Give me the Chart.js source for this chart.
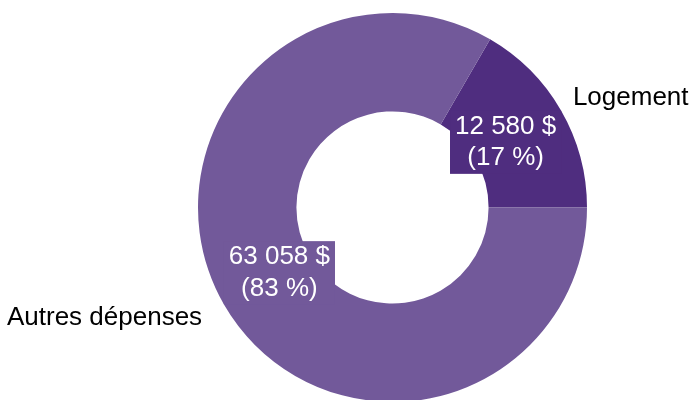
<!DOCTYPE html>
<html>
<head>
<meta charset="utf-8">
<script src="https://cdn.jsdelivr.net/npm/chart.js@4/dist/chart.umd.min.js"></script>
<style>
  html, body { margin: 0; padding: 0; background: #fff; overflow: hidden; }
  #wrap { width: 696px; height: 402px; position: relative; }
</style>
</head>
<body>
<div id="wrap"><canvas id="depenses"></canvas></div>
<script>
// Dépenses du ménage : logement vs le reste
const categories = ['Logement', 'Autres dépenses'];
const montants = [12580, 63058];
const couleurs = ['#4F2D7F', '#72599A'];

const FONT = '"Liberation Sans", Arial, sans-serif';
const total = montants.reduce((a, b) => a + b, 0);

function fmtDollars(v) {
  return String(v).replace(/\B(?=(\d{3})+(?!\d))/g, ' ') + ' $';
}
function fmtPct(v) {
  return '(' + Math.round(v / total * 100) + ' %)';
}

// étiquettes : montant dans l'anneau (encadré), catégorie à l'extérieur
const etiquettes = {
  id: 'etiquettes',
  afterDatasetsDraw(chart) {
    const ctx = chart.ctx;
    const meta = chart.getDatasetMeta(0);
    ctx.save();
    ctx.font = '26px ' + FONT;
    ctx.textBaseline = 'middle';
    meta.data.forEach((arc, i) => {
      const p = arc.getProps(['x', 'y', 'startAngle', 'endAngle', 'innerRadius', 'outerRadius'], true);
      const mid = (p.startAngle + p.endAngle) / 2;
      const cos = Math.cos(mid), sin = Math.sin(mid);

      // valeur + pourcentage
      const r = p.innerRadius + (p.outerRadius - p.innerRadius) * 0.35;
      const cx = p.x + cos * r, cy = p.y + sin * r;
      const l1 = fmtDollars(montants[i]), l2 = fmtPct(montants[i]);
      const w = Math.max(ctx.measureText(l1).width, ctx.measureText(l2).width) + 10;
      const h = 63, lh = 31.5;
      ctx.fillStyle = couleurs[i];
      ctx.fillRect(cx - w / 2, cy - h / 2, w, h);
      ctx.fillStyle = '#fff';
      ctx.textAlign = 'center';
      ctx.fillText(l1, cx, cy - lh / 2);
      ctx.fillText(l2, cx, cy + lh / 2);

      // nom de catégorie
      const ox = p.x + cos * p.outerRadius * 1.1 - 5;
      const oy = p.y + sin * p.outerRadius * 1.135;
      ctx.fillStyle = '#000';
      ctx.textAlign = cos >= 0 ? 'left' : 'right';
      ctx.fillText(categories[i], ox, oy);
    });
    ctx.restore();
  }
};

new Chart(document.getElementById('depenses'), {
  type: 'doughnut',
  data: {
    labels: categories,
    datasets: [{
      data: montants,
      backgroundColor: couleurs,
      borderWidth: 0,
      hoverOffset: 0
    }]
  },
  options: {
    responsive: true,
    maintainAspectRatio: false,
    animation: false,
    cutout: '49.4%',
    rotation: 90 - 360 * montants[0] / total,
    layout: { padding: { left: 198, right: 109, top: 13, bottom: 0 } },
    plugins: {
      legend: { display: false },
      tooltip: { enabled: false }
    }
  },
  plugins: [etiquettes]
});
</script>
</body>
</html>
